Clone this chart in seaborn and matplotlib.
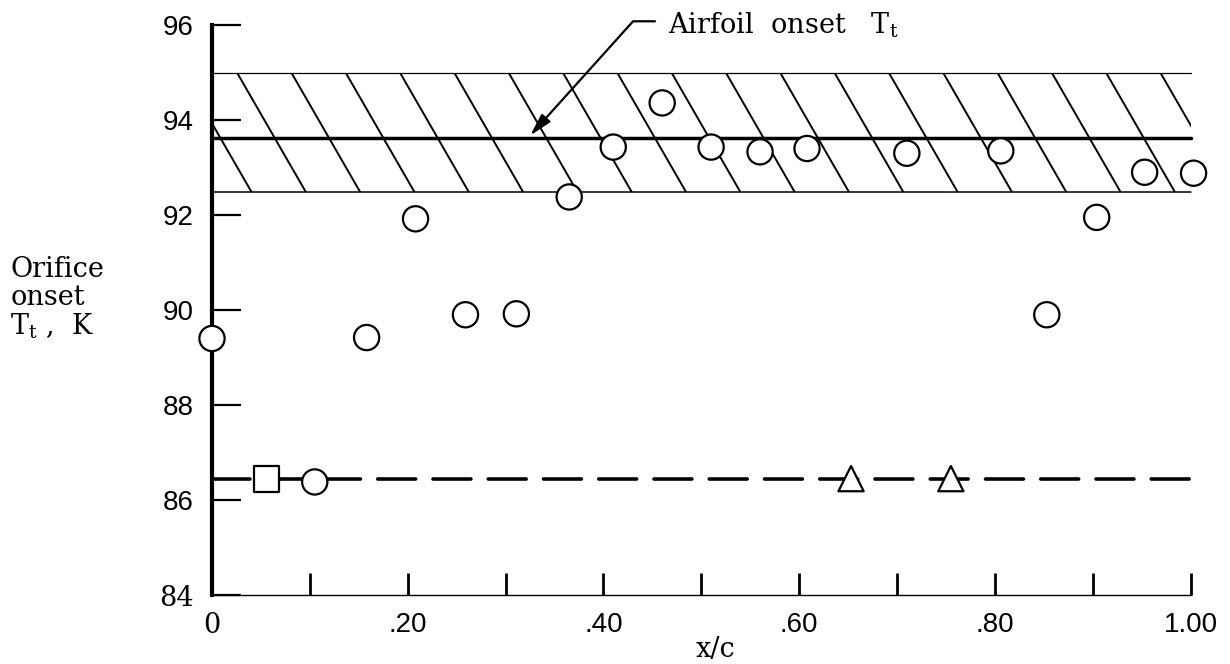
import numpy as np
import pandas as pd
import matplotlib
matplotlib.use("Agg")
import matplotlib.pyplot as plt
import seaborn as sns
from matplotlib.patches import Rectangle
from matplotlib.ticker import FixedLocator, FixedFormatter

# Orifice onset total temperature along the chord
circle_x = [0.0, 0.105, 0.158, 0.208, 0.259, 0.311, 0.365, 0.41, 0.46, 0.51,
            0.56, 0.608, 0.71, 0.806, 0.853, 0.904, 0.953, 1.003]
circle_t = [89.4, 86.38, 89.42, 91.92, 89.9, 89.92, 92.38, 93.43, 94.36, 93.43,
            93.33, 93.4, 93.3, 93.35, 89.9, 91.95, 92.9, 92.88]
square_x = [0.056]
square_t = [86.44]
triangle_x = [0.653, 0.755]
triangle_t = [86.45, 86.45]

# Airfoil onset total temperature: mean value and scatter band
airfoil_tt = 93.62
band_low, band_high = 92.48, 95.0
# Reference (dashed) level
dashed_tt = 86.44

x_ticks = [0.0, 0.2, 0.4, 0.6, 0.8, 1.0]
x_tick_labels = ["0", ".20", ".40", ".60", ".80", "1.00"]
x_minor = [0.1, 0.3, 0.5, 0.7, 0.9]
y_ticks = [84, 86, 88, 90, 92, 94, 96]
y_tick_labels = ["84", "86", "88", "90", "92", "94", "96"]

sns.set_theme(style="white")
plt.rcParams["font.family"] = ["DejaVu Serif"]
plt.rcParams["mathtext.fontset"] = "custom"
plt.rcParams["mathtext.rm"] = "DejaVu Serif"
plt.rcParams["text.color"] = "black"
plt.rcParams["axes.labelcolor"] = "black"
plt.rcParams["xtick.color"] = "black"
plt.rcParams["ytick.color"] = "black"

fig = plt.figure(figsize=(12.3, 6.64), dpi=100)
ax = fig.add_axes([212 / 1230, 69 / 664, 1008 / 1230, 570 / 664])
ax.set_xlim(0, 1.03)
ax.set_ylim(84, 96)

# Hatched scatter band of airfoil onset temperature
band = Rectangle((0, band_low), 1.0, band_high - band_low, facecolor="none",
                 edgecolor="none", transform=ax.transData)
ax.add_patch(band)
slant = 0.0705
for x0 in np.arange(-0.03, 0.98, 0.0555):
    ln, = ax.plot([x0, x0 + slant], [band_high, band_low], color="black",
                  lw=1.4, solid_capstyle="butt", zorder=2)
    ln.set_clip_path(band)
ax.plot([0, 1.0], [band_high, band_high], color="black", lw=0.9, zorder=2)
ax.plot([0, 1.0], [band_low, band_low], color="black", lw=1.1, zorder=2)
ax.plot([0, 1.0], [airfoil_tt, airfoil_tt], color="black", lw=2.5, zorder=3,
        solid_capstyle="round")

# Dashed reference level
ax.plot([0, 1.0], [dashed_tt, dashed_tt], color="black", lw=2.6,
        dashes=(10.5, 4.8), dash_capstyle="round", zorder=3)

points = pd.DataFrame({
    "x": circle_x + square_x + triangle_x,
    "tt": circle_t + square_t + triangle_t,
    "kind": ["circle"] * len(circle_x) + ["square"] * len(square_x)
            + ["triangle"] * len(triangle_x),
})
sns.scatterplot(data=points, x="x", y="tt", style="kind",
                markers={"circle": "o", "square": "s", "triangle": "^"},
                s=330, facecolor="white", edgecolor="black", linewidth=1.6,
                legend=False, ax=ax, zorder=5, clip_on=False)

# Axes styling
for side in ("top", "right"):
    ax.spines[side].set_visible(False)
ax.spines["left"].set_linewidth(3.0)
ax.spines["left"].set_color("black")
ax.spines["bottom"].set_linewidth(1.0)
ax.spines["bottom"].set_color("black")
ax.spines["bottom"].set_bounds(0, 1.0)

ax.yaxis.set_major_locator(FixedLocator(y_ticks))
ax.yaxis.set_major_formatter(FixedFormatter(y_tick_labels))
ax.xaxis.set_major_locator(FixedLocator(x_ticks))
ax.xaxis.set_major_formatter(FixedFormatter(x_tick_labels))
ax.xaxis.set_minor_locator(FixedLocator(x_minor))

ax.tick_params(axis="y", which="major", direction="in", length=21, width=1.6,
               color="black", labelcolor="black", pad=13, labelsize=19.5,
               left=True)
ax.tick_params(axis="x", which="major", direction="in", length=16, width=2.0,
               color="black", labelcolor="black", pad=12, labelsize=19.5,
               bottom=True)
ax.tick_params(axis="x", which="minor", direction="in", length=16, width=2.0,
               color="black", bottom=True)
for lab in ax.get_xticklabels() + ax.get_yticklabels():
    if lab.get_text() not in ("0", "84"):
        lab.set_family("Liberation Sans")
        lab.set_fontsize(20)

ax.set_xlabel("x/c", fontsize=19.5, labelpad=-2, color="black")
ax.set_ylabel("Orifice\nonset\n$\\mathregular{T_t}$ ,  K", rotation=0,
              fontsize=19.5, ha="left", va="center", multialignment="left",
              linespacing=1.05, color="black")
ax.yaxis.set_label_coords(-0.2, 0.52)

ax.annotate("Airfoil  onset   $\\mathregular{T_t}$",
            xy=(0.325, airfoil_tt + 0.05), xytext=(0.466, 95.83),
            fontsize=19.5, ha="left", va="baseline", annotation_clip=False,
            color="black",
            arrowprops=dict(arrowstyle="-|>,head_length=0.7,head_width=0.18",
                            connectionstyle="angle,angleA=180,angleB=48,rad=0",
                            relpos=(0, 0.62), shrinkA=7, shrinkB=0,
                            color="black", lw=1.6))

fig.savefig("out.png", dpi=100, facecolor="white")
